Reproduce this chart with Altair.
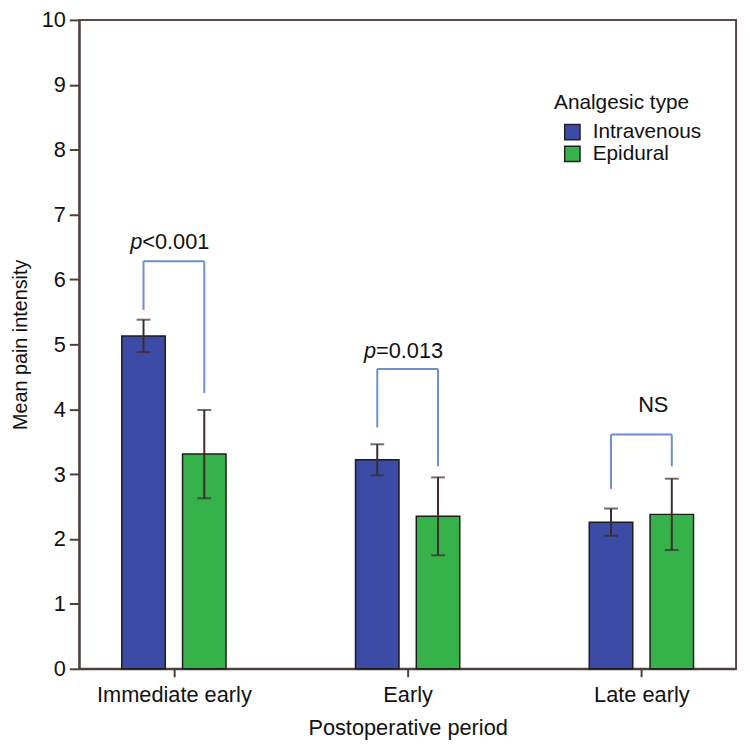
import json
import altair as alt
import pandas as pd

# ---- data ----
periods = ["Immediate early", "Early", "Late early"]
types = ["Intravenous", "Epidural"]
iv_mean = [5.13, 3.22, 2.26]
iv_err = [0.25, 0.24, 0.21]
epi_mean = [3.31, 2.35, 2.38]
epi_err = [0.68, 0.60, 0.55]

sig_italic = ["p", "p", ""]
sig_rest = ["<0.001", "=0.013", "NS"]
bracket_top = [6.28, 4.62, 3.61]
bracket_left_end = [5.53, 3.72, 2.77]
bracket_right_end = [4.25, 3.12, 3.12]
label_y = [6.58, 4.9, 4.06]

# ---- tables ----
rows = []
for i, p in enumerate(periods):
    rows.append(dict(period=p, g=i, type=types[0], mean=iv_mean[i], err=iv_err[i], side=-1))
    rows.append(dict(period=p, g=i, type=types[1], mean=epi_mean[i], err=epi_err[i], side=1))
bars = pd.DataFrame(rows)

sig = pd.DataFrame(dict(period=periods, g=list(range(3)), italic=sig_italic, rest=sig_rest,
                        top=bracket_top, lend=bracket_left_end, rend=bracket_right_end,
                        ly=label_y))

OFF = 0.13
HALF = 0.093
BLUE, GREEN = "#3c4ba6", "#35b34a"
AXC = "#4d403c"
ERRC = "#3b2b2b"
BRC = "#6b8fd1"
FONT = "Liberation Sans"
FS = 22

xscale = alt.Scale(domain=[-0.405, 2.405], nice=False, zero=False)
yscale = alt.Scale(domain=[0, 10], nice=False)

label_expr = json.dumps(periods) + "[datum.value]"

x_axis = alt.Axis(values=[0, 1, 2], labelExpr=label_expr, title="Postoperative period",
                  grid=False, tickSize=8, tickWidth=2, tickColor=AXC, domainColor=AXC,
                  domainWidth=2, labelFontSize=FS, labelPadding=8, titleFontSize=FS,
                  titleFontWeight="normal", titlePadding=12, labelColor="#111",
                  titleColor="#111", labelFont=FONT, titleFont=FONT)
y_axis = alt.Axis(values=list(range(11)), format="d", title="Mean pain intensity", grid=False,
                  tickSize=10, tickWidth=2, tickColor=AXC, domainColor=AXC, domainWidth=2,
                  labelFontSize=FS, labelPadding=4, titleFontSize=20, titleFontWeight="normal",
                  titlePadding=11, labelColor="#111", titleColor="#111", labelFont=FONT,
                  titleFont=FONT)

base = alt.Chart(bars).transform_calculate(
    xc=f"datum.g + datum.side * {OFF}",
    x0=f"datum.g + datum.side * {OFF} - {HALF}",
    x1=f"datum.g + datum.side * {OFF} + {HALF}",
    lo="datum.mean - datum.err",
    hi="datum.mean + datum.err",
    zero="0",
)

bar_layer = base.mark_bar(stroke="#1c1c1c", strokeWidth=1.5).encode(
    x=alt.X("x0:Q", scale=xscale, axis=x_axis),
    x2="x1:Q",
    y=alt.Y("mean:Q", scale=yscale, axis=y_axis),
    y2="zero:Q",
    color=alt.Color("type:N", scale=alt.Scale(domain=types, range=[BLUE, GREEN]),
                    legend=alt.Legend(title="Analgesic type", orient="none", legendX=480,
                                      legendY=73, titleFontSize=21, titleFontWeight="normal",
                                      labelFontSize=21, symbolType="square", symbolSize=240,
                                      symbolStrokeColor="#222", symbolStrokeWidth=1.5,
                                      symbolOpacity=1, symbolOffset=8, rowPadding=-5,
                                      titlePadding=9, labelOffset=10, labelFont=FONT,
                                      titleFont=FONT, labelColor="#111", titleColor="#111")),
)

err_rule = base.mark_rule(color=ERRC, strokeWidth=2).encode(
    x="xc:Q", y="lo:Q", y2="hi:Q")
cap_lo = base.mark_tick(color=ERRC, orient="horizontal", size=14, thickness=2).encode(
    x="xc:Q", y="lo:Q")
cap_hi = base.mark_tick(color=ERRC, orient="horizontal", size=14, thickness=2).encode(
    x="xc:Q", y="hi:Q")

sbase = alt.Chart(sig).transform_calculate(
    xl=f"datum.g - {OFF}", xr=f"datum.g + {OFF}")
br_h = sbase.mark_rule(color=BRC, strokeWidth=2).encode(x="xl:Q", x2="xr:Q", y="top:Q")
br_l = sbase.mark_rule(color=BRC, strokeWidth=2).encode(x="xl:Q", y="lend:Q", y2="top:Q")
br_r = sbase.mark_rule(color=BRC, strokeWidth=2).encode(x="xr:Q", y="rend:Q", y2="top:Q")

ptxt = sbase.transform_filter("datum.italic != ''")
t_it = ptxt.mark_text(align="right", baseline="middle", fontStyle="italic", fontSize=FS,
                      dx=-32, font=FONT, color="#111").encode(x="g:Q", y="ly:Q", text="italic:N")
t_rest = ptxt.mark_text(align="left", baseline="middle", fontSize=FS, dx=-32, font=FONT,
                        color="#111").encode(x="g:Q", y="ly:Q", text="rest:N")
t_ns = sbase.transform_filter("datum.italic == ''").mark_text(
    align="center", baseline="middle", fontSize=FS, dx=12, font=FONT, color="#111").encode(
    x="g:Q", y="ly:Q", text="rest:N")

chart = alt.layer(bar_layer, err_rule, cap_lo, cap_hi, br_h, br_l, br_r, t_it, t_rest, t_ns
).properties(
    width=664, height=656,
    autosize=alt.AutoSizeParams(type="none"),
    padding={"left": 72, "top": 8, "right": 6, "bottom": 73},
    background="white",
).configure_view(stroke="#5a4a46", strokeWidth=2)

chart.save("out.html", embed_options={"renderer": "svg", "actions": False})
